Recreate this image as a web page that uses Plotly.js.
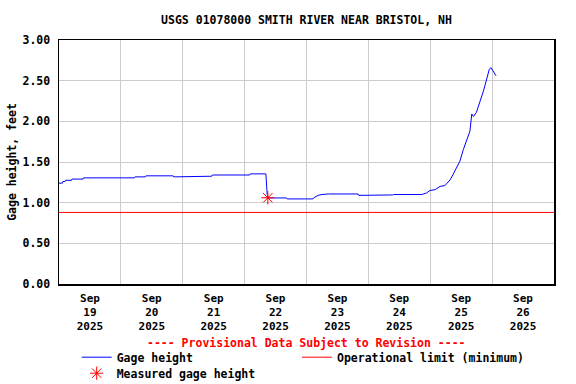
<!DOCTYPE html>
<html>
<head>
<meta charset="utf-8">
<script src="https://cdn.plot.ly/plotly-3.0.1.min.js"></script>
<style>html,body{margin:0;padding:0;background:#fff;}#chart{width:576px;height:384px;}</style>
</head>
<body>
<div id="chart"></div>
<script>
// Gage height series (time, feet)
const gageTimes = [
  "2025-09-19 00:00","2025-09-19 01:20","2025-09-19 01:30","2025-09-19 02:20","2025-09-19 02:30",
  "2025-09-19 04:50","2025-09-19 05:00","2025-09-19 09:20","2025-09-19 09:30","2025-09-20 05:15",
  "2025-09-20 05:30","2025-09-20 09:30","2025-09-20 09:45","2025-09-20 20:15","2025-09-20 20:30",
  "2025-09-21 02:45","2025-09-21 03:00","2025-09-21 11:15","2025-09-21 11:30","2025-09-22 02:00",
  "2025-09-22 02:15","2025-09-22 08:15","2025-09-22 08:45","2025-09-22 09:15","2025-09-22 16:15",
  "2025-09-22 16:30","2025-09-23 02:30","2025-09-23 02:45","2025-09-23 04:30","2025-09-23 06:00",
  "2025-09-23 08:30","2025-09-23 20:00","2025-09-23 20:15","2025-09-24 01:45","2025-09-24 02:00",
  "2025-09-24 09:30","2025-09-24 09:45","2025-09-24 20:45","2025-09-24 22:36","2025-09-24 23:54",
  "2025-09-25 01:54","2025-09-25 03:48","2025-09-25 05:42","2025-09-25 07:42","2025-09-25 08:54",
  "2025-09-25 10:18","2025-09-25 11:30","2025-09-25 12:48","2025-09-25 14:06","2025-09-25 15:24",
  "2025-09-25 16:06","2025-09-25 16:48","2025-09-25 17:54","2025-09-25 19:12","2025-09-25 20:36",
  "2025-09-25 21:54","2025-09-25 22:54","2025-09-25 23:36","2025-09-26 00:30","2025-09-26 01:30"
];
const gageValues = [
  1.24,1.24,1.26,1.26,1.275,
  1.275,1.29,1.29,1.305,1.305,
  1.317,1.317,1.33,1.33,1.317,
  1.317,1.325,1.325,1.34,1.34,
  1.354,1.354,1.10,1.058,1.058,
  1.046,1.046,1.058,1.09,1.10,
  1.107,1.107,1.09,1.09,1.095,
  1.095,1.10,1.10,1.12,1.15,
  1.16,1.20,1.21,1.28,1.35,
  1.43,1.51,1.65,1.76,1.88,
  2.09,2.06,2.11,2.23,2.37,
  2.52,2.64,2.66,2.62,2.56
];
// Measured gage height
const measuredTimes = ["2025-09-22 09:00"];
const measuredValues = [1.06];
// Operational limit (minimum)
const limitTimes = ["2025-09-19 00:00","2025-09-27 00:00"];
const limitValues = [0.88, 0.88];
const xRange = ["2025-09-19 00:00","2025-09-27 00:00"];
const yTicks = [0, 0.5, 1, 1.5, 2, 2.5, 3];

const FONT = "DejaVu Sans Mono, monospace";
const W = 576, H = 384;
const PLOT_TOP = 40, PLOT_BOTTOM = 284;

const traces = [
  {x: gageTimes, y: gageValues, type: "scatter", mode: "lines", name: "Gage height",
   line: {color: "#0000ff", width: 1}, legend: "legend"},
  {x: limitTimes, y: limitValues, type: "scatter", mode: "lines", name: "Operational limit (minimum)",
   line: {color: "#ff0000", width: 1}, legend: "legend2"},
  {x: measuredTimes, y: measuredValues, type: "scatter", mode: "markers", name: "Measured gage height",
   marker: {symbol: "asterisk-open", size: 11, color: "#ff0000", line: {color: "#ff0000", width: 1}},
   legend: "legend3"}
];

const legendFont = {family: FONT, size: 11.5, color: "#000", weight: "bold"};
function legendAt(px, topPx) {
  return {orientation: "h", xref: "container", yref: "container",
          x: px / W, xanchor: "left", y: 1 - topPx / H, yanchor: "top",
          itemwidth: 30, font: legendFont, bgcolor: "rgba(0,0,0,0)"};
}

const layout = {
  width: W, height: H,
  margin: {l: 59, r: 22, t: PLOT_TOP, b: H - PLOT_BOTTOM, autoexpand: false},
  paper_bgcolor: "#ffffff", plot_bgcolor: "#ffffff",
  font: {family: FONT, size: 11.5, color: "#000", weight: "bold"},
  title: {text: "USGS 01078000 SMITH RIVER NEAR BRISTOL, NH", x: 0.5, xref: "paper",
          y: 1 - 20/H, yref: "container", yanchor: "middle",
          font: {family: FONT, size: 11.5, color: "#000", weight: "bold"}},
  xaxis: {type: "date", range: xRange, tick0: "2025-09-19", dtick: 86400000,
          ticklabelmode: "period", tickformat: "%b<br>%d<br>%Y",
          showgrid: true, gridcolor: "#cccccc", gridwidth: 1,
          showline: true, linecolor: "#000", linewidth: 1.5, mirror: true,
          ticks: "outside", ticklen: 3, tickcolor: "rgba(0,0,0,0)", zeroline: false, fixedrange: true,
          tickfont: {family: FONT, size: 11, color: "#000", weight: "bold"}},
  yaxis: {range: [0, 3], tickvals: yTicks, tickformat: ".2f",
          showgrid: true, gridcolor: "#cccccc", gridwidth: 1,
          showline: true, linecolor: "#000", linewidth: 1.5, mirror: true,
          ticks: "outside", ticklen: 5, tickcolor: "rgba(0,0,0,0)", zeroline: false,
          title: {text: "Gage height, feet", standoff: 3, font: {family: FONT, size: 11.5, color: "#000", weight: "bold"}},
          tickfont: {family: FONT, size: 11.5, color: "#000", weight: "bold"}},
  showlegend: true,
  legend: legendAt(76.7, 342.7),
  legend2: legendAt(297, 342.7),
  legend3: legendAt(76.7, 358.7),
  annotations: [
    {text: "---- Provisional Data Subject to Revision ----", xref: "paper", yref: "paper",
     x: 0.5, y: (PLOT_BOTTOM - 343) / (PLOT_BOTTOM - PLOT_TOP), xanchor: "center", yanchor: "middle",
     showarrow: false, font: {family: FONT, size: 11.5, color: "#ff0000", weight: "bold"}}
  ]
};

Plotly.newPlot("chart", traces, layout, {staticPlot: true, displayModeBar: false});
</script>
</body>
</html>
